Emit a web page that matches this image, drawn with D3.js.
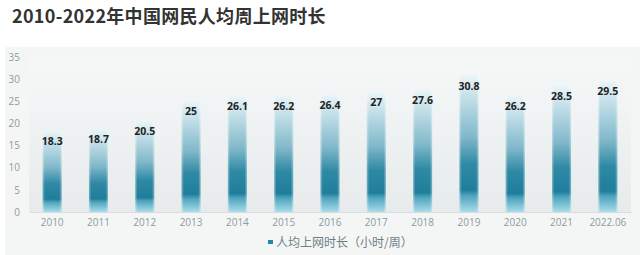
<!DOCTYPE html>
<html>
<head>
<meta charset="utf-8">
<script src="https://cdn.jsdelivr.net/npm/d3@7"></script>
<style>
  body { margin: 0; background: #fff; }
  svg { display: block; font-family: "Noto Sans CJK SC", "Noto Sans", sans-serif; }
</style>
</head>
<body>
<div id="chart"></div>
<script>
var categories = ["2010", "2011", "2012", "2013", "2014", "2015", "2016", "2017", "2018", "2019", "2020", "2021", "2022.06"];
var hours = [18.3, 18.7, 20.5, 25, 26.1, 26.2, 26.4, 27, 27.6, 30.8, 26.2, 28.5, 29.5];
var yTicks = [0, 5, 10, 15, 20, 25, 30, 35];
var title = "2010-2022年中国网民人均周上网时长";
var legendLabel = "人均上网时长（小时/周）";

var width = 640, height = 255;
var plot = { left: 29, right: 631, top: 57, bottom: 212 };

var svg = d3.select("#chart").append("svg")
    .attr("width", width)
    .attr("height", height);

var defs = svg.append("defs");

var bgGrad = defs.append("linearGradient")
    .attr("id", "bgGrad")
    .attr("x1", 0).attr("y1", 0).attr("x2", 0).attr("y2", 1);
bgGrad.append("stop").attr("offset", 0).attr("stop-color", "#f6f8f8");
bgGrad.append("stop").attr("offset", 1).attr("stop-color", "#e7ebec");

var barGrad = defs.append("linearGradient")
    .attr("id", "barGrad")
    .attr("x1", 0).attr("y1", 0).attr("x2", 0).attr("y2", 1);
[[0, "#eaf5f8"], [0.15, "#c6e1ea"], [0.45, "#80b8ca"], [0.65, "#2f89a5"], [0.84, "#1f7e9b"],
 [0.88, "#4ea4bd"], [1, "#a9dcea"]].forEach(function(s) {
    barGrad.append("stop").attr("offset", s[0]).attr("stop-color", s[1]);
});

// soft side edges on the bars
var edgeGrad = defs.append("linearGradient")
    .attr("id", "edgeGrad")
    .attr("x1", 0).attr("y1", 0).attr("x2", 1).attr("y2", 0);
[[0, 0.4], [0.12, 0], [0.88, 0], [1, 0.4]].forEach(function(s) {
    edgeGrad.append("stop").attr("offset", s[0]).attr("stop-color", "#ffffff").attr("stop-opacity", s[1]);
});

// title
svg.append("text")
    .attr("x", 12)
    .attr("y", 23)
    .attr("fill", "#333")
    .style("font-size", "18px")
    .style("font-weight", "bold")
    .style("letter-spacing", "0.3px")
    .text(title);

// panel
svg.append("rect")
    .attr("x", 5).attr("y", 47)
    .attr("width", width - 5).attr("height", height - 47)
    .attr("fill", "#f4f6f6");

svg.append("rect")
    .attr("x", plot.left).attr("y", plot.top)
    .attr("width", plot.right - plot.left).attr("height", plot.bottom - plot.top)
    .attr("fill", "url(#bgGrad)");

var x = d3.scaleBand()
    .domain(categories)
    .range([plot.left, plot.right])
    .paddingInner(0.59)
    .paddingOuter(0.295);

var y = d3.scaleLinear()
    .domain([0, 35])
    .range([plot.bottom, plot.top]);

// y axis
var yAxis = d3.axisLeft(y)
    .tickValues(yTicks)
    .tickSize(0)
    .tickPadding(0);

svg.append("g")
    .attr("transform", "translate(20,0)")
    .call(yAxis)
    .call(function(g) {
        g.select(".domain").remove();
        g.selectAll("text").attr("fill", "#8c9c9e").style("font-size", "10px")
            .style("font-family", "'Open Sans', sans-serif");
    });

// x axis
var xAxis = d3.axisBottom(x)
    .tickSize(0)
    .tickPadding(7);

svg.append("g")
    .attr("transform", "translate(0," + plot.bottom + ")")
    .call(xAxis)
    .call(function(g) {
        g.select(".domain").attr("stroke", "#d9dddd");
        g.selectAll("text").attr("fill", "#8c9c9e").style("font-size", "10px")
            .style("font-family", "'Open Sans', sans-serif");
    });

// bars
var bars = svg.append("g").selectAll("g")
    .data(hours)
    .join("g");

bars.append("rect")
    .attr("x", function(d, i) { return x(categories[i]); })
    .attr("y", function(d) { return y(d); })
    .attr("width", x.bandwidth())
    .attr("height", function(d) { return y(0) - y(d); })
    .attr("fill", "url(#barGrad)");

bars.append("rect")
    .attr("x", function(d, i) { return x(categories[i]); })
    .attr("y", function(d) { return y(d); })
    .attr("width", x.bandwidth())
    .attr("height", function(d) { return y(0) - y(d); })
    .attr("fill", "url(#edgeGrad)");

bars.append("text")
    .attr("x", function(d, i) { return x(categories[i]) + x.bandwidth() / 2; })
    .attr("y", function(d) { return y(d) + 14; })
    .attr("text-anchor", "middle")
    .attr("fill", "#222")
    .style("font-size", "10.5px")
    .style("font-weight", "bold")
    .style("font-family", "'Open Sans', sans-serif")
    .text(function(d) { return d; });

// legend
var legend = svg.append("g").attr("transform", "translate(268,243)");
legend.append("rect")
    .attr("x", 0).attr("y", -3)
    .attr("width", 5).attr("height", 4)
    .attr("fill", "#2b86a2");
legend.append("text")
    .attr("x", 8).attr("y", 4)
    .attr("fill", "#6f8084")
    .style("font-size", "12px")
    .text(legendLabel);
</script>
</body>
</html>
